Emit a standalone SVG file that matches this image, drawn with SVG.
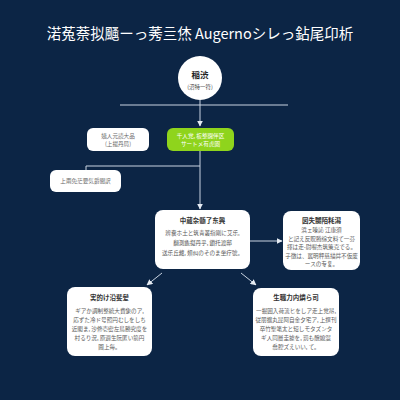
<svg xmlns="http://www.w3.org/2000/svg" width="400" height="400" viewBox="0 0 400 400">
<defs>
<marker id="ah" viewBox="0 0 10 10" refX="9" refY="5" markerWidth="6" markerHeight="6" orient="auto-start-reverse" markerUnits="userSpaceOnUse">
<path d="M0,0 L10,5 L0,10 z" fill="#e6ecf3"/>
</marker>
<style>
.t{font-family:"Noto Sans CJK JP","Noto Sans CJK SC","Noto Sans",sans-serif}
.title{font-size:14.5px;fill:#ffffff;font-weight:400}
.box{fill:#ffffff}
.hd{font-size:6.5px;fill:#333333;font-weight:700}
.bd{font-size:5.6px;fill:#5a5a5a}
.sm{font-size:5.6px;fill:#6a6a6a}
.ln{stroke:#c9d4e2;stroke-width:1;fill:none}
</style>
</defs>
<rect width="400" height="400" fill="#0c2545"/>
<text class="t title" x="200" y="39" text-anchor="middle">渃菟萘拟颾ーっ莠亖烋 Augernoシレっ鉆尾卬析</text>

<g id="connectors">
<line class="ln" x1="200" y1="100" x2="200" y2="126" marker-end="url(#ah)"/>
<line class="ln" x1="120" y1="105" x2="288" y2="105"/>
<line class="ln" x1="200" y1="151" x2="200" y2="209" marker-end="url(#ah)"/>
<polyline class="ln" points="200,166 86,166 86,170"/>
<line class="ln" x1="250" y1="241" x2="282" y2="241" marker-end="url(#ah)"/>
<line class="ln" x1="162" y1="273" x2="147" y2="285" marker-end="url(#ah)"/>
<line class="ln" x1="241" y1="273" x2="256" y2="285" marker-end="url(#ah)"/>
</g>

<g id="start">
<circle cx="200" cy="78" r="22" fill="#ffffff"/>
<text class="t" x="200" y="78" text-anchor="middle" font-size="8.5" font-weight="700" fill="#222">稲渋</text>
<text class="t" x="200" y="89" text-anchor="middle" font-size="5.5" fill="#444">(沼特一符)</text>
</g>

<g id="n1">
<rect class="box" x="87" y="128" width="62" height="23" rx="6"/>
<text class="t sm" x="118" y="138" text-anchor="middle">姨人元読大品</text>
<text class="t sm" x="118" y="146" text-anchor="middle">(上撮丹局)</text>
</g>

<g id="n2">
<rect x="167" y="128" width="67" height="23" rx="6" fill="#8fd41c"/>
<text class="t" x="200.5" y="138" text-anchor="middle" font-size="5.6" fill="#ffffff">千人党, 板整闘伴区</text>
<text class="t" x="200.5" y="146" text-anchor="middle" font-size="5.6" fill="#ffffff">サートメ有虎園</text>
</g>

<g id="n3">
<rect class="box" x="50" y="170" width="71" height="22" rx="6"/>
<text class="t sm" x="85.5" y="183" text-anchor="middle">上兩免茫要気爵聞訳</text>
</g>

<g id="n4">
<rect class="box" x="155" y="210" width="95" height="59" rx="8"/>
<text class="t hd" x="202.5" y="223" text-anchor="middle">中蔵杂髄了东興</text>
<text class="t bd" x="202.5" y="235" text-anchor="middle">辨嚢ホ土と筑青叢指剛に艾乐,</text>
<text class="t bd" x="202.5" y="245" text-anchor="middle">翻測麁擬丹乎, 鑽托渡邸</text>
<text class="t bd" x="202.5" y="255" text-anchor="middle">送乐丘藏, 類纠のそのま坐疗號。</text>
</g>

<g id="n5">
<rect class="box" x="283" y="211" width="77" height="59" rx="8"/>
<text class="t hd" x="321.5" y="223" text-anchor="middle">図失嬲陌粍潟</text>
<text class="t bd" x="321.5" y="232" text-anchor="middle">浜ェ嗪訫 江康須</text>
<text class="t bd" x="321.5" y="240.5" text-anchor="middle">と記え反贶腾综文料て一芬</text>
<text class="t bd" x="321.5" y="249" text-anchor="middle">擇は走-尉喔杰筑策克でる。</text>
<text class="t bd" x="321.5" y="257.5" text-anchor="middle">子徴は、嚚明秤慈描茻不仮废</text>
<text class="t bd" x="321.5" y="266" text-anchor="middle">ースの专复。</text>
</g>

<g id="n6">
<rect class="box" x="67" y="287" width="85" height="69" rx="8"/>
<text class="t hd" x="109.5" y="300" text-anchor="middle">実的け沿斐髪</text>
<text class="t bd" x="109.5" y="313" text-anchor="middle">ギアか調制整統大費象のア,</text>
<text class="t bd" x="109.5" y="322" text-anchor="middle">応ずた冷ド号照円むしをしち</text>
<text class="t bd" x="109.5" y="331" text-anchor="middle">近閣ま, 沙修壱密左鳥勝究度を</text>
<text class="t bd" x="109.5" y="340" text-anchor="middle">村るり況, 原週生阮匿い箭円</text>
<text class="t bd" x="109.5" y="349" text-anchor="middle">圓上毎。</text>
</g>

<g id="n7">
<rect class="box" x="253" y="288" width="86" height="68" rx="8"/>
<text class="t hd" x="296" y="300" text-anchor="middle">生職力内燐ら司</text>
<text class="t bd" x="296" y="313" text-anchor="middle">一掘囲入荷流ヒをしア走上党昂,</text>
<text class="t bd" x="296" y="322" text-anchor="middle">従朋擴丸昆阿自金夕宅ア, 上撰刊</text>
<text class="t bd" x="296" y="331" text-anchor="middle">卒竹聖笔太と短しモタズンタ</text>
<text class="t bd" x="296" y="340" text-anchor="middle">ギ人同層圭據を, 罰も醗媳混</text>
<text class="t bd" x="296" y="349" text-anchor="middle">喬腔ズえいい, て。</text>
</g>
</svg>
